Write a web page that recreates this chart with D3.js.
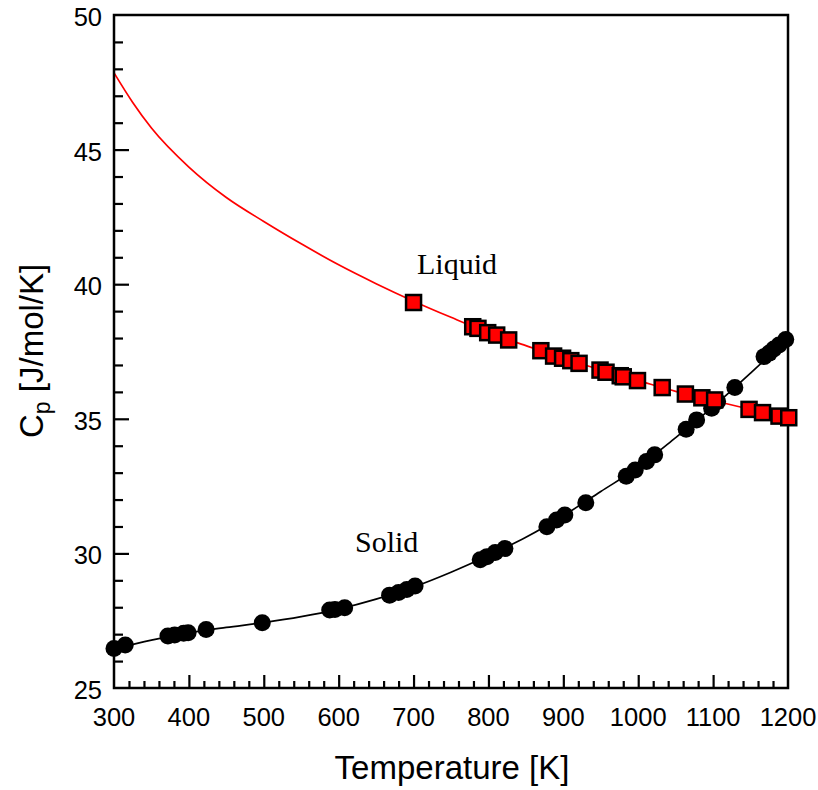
<!DOCTYPE html>
<html>
<head>
<meta charset="utf-8">
<script src="https://cdn.jsdelivr.net/npm/d3@7"></script>
<style>
  html, body { margin: 0; padding: 0; background: #fff; }
  svg { display: block; }
</style>
</head>
<body>
<svg id="chart" width="818" height="790"></svg>
<script>
// Fitted heat-capacity curves (temperature K, Cp J/mol/K)
const liquidCurveT  = [300, 325, 350, 400, 450, 500, 550, 600, 650, 700, 750, 800, 850, 900, 950, 1000, 1050, 1100, 1150, 1200];
const liquidCurveCp = [47.85, 46.75, 45.8, 44.35, 43.22, 42.33, 41.50, 40.72, 40.02, 39.37, 38.77, 38.2, 37.72, 37.25, 36.82, 36.42, 36.02, 35.68, 35.35, 35.05];
const solidCurveT   = [300, 350, 400, 450, 500, 550, 600, 650, 700, 750, 800, 850, 900, 950, 1000, 1050, 1100, 1150, 1200];
const solidCurveCp  = [26.45, 26.78, 27.05, 27.25, 27.43, 27.65, 27.93, 28.3, 28.75, 29.3, 29.92, 30.6, 31.4, 32.3, 33.2, 34.3, 35.45, 36.7, 38.0];

// Measured points, liquid phase
const liquidT  = [700, 779, 786, 799, 811, 827, 870, 887, 899, 910, 921, 949, 957, 976, 980, 999, 1032, 1063, 1085, 1102, 1148, 1166, 1188, 1201];
const liquidCp = [39.32, 38.42, 38.36, 38.20, 38.11, 37.93, 37.53, 37.33, 37.25, 37.16, 37.06, 36.81, 36.73, 36.60, 36.56, 36.42, 36.16, 35.92, 35.78, 35.70, 35.35, 35.23, 35.10, 35.04];

// Measured points, solid phase
const solidT  = [300, 315, 372, 381, 393, 399, 423, 498, 588, 595, 608, 668, 680, 691, 702, 789, 798, 809, 822, 878, 891, 902, 930, 984, 996, 1011, 1022, 1064, 1078, 1098, 1106, 1129, 1168, 1175, 1181, 1188, 1197];
const solidCp = [26.47, 26.60, 26.93, 26.97, 27.03, 27.05, 27.17, 27.42, 27.90, 27.92, 27.98, 28.45, 28.55, 28.66, 28.79, 29.76, 29.88, 30.03, 30.18, 30.99, 31.24, 31.43, 31.88, 32.87, 33.10, 33.41, 33.66, 34.61, 34.96, 35.39, 35.64, 36.16, 37.31, 37.44, 37.59, 37.74, 37.95];

const xTicks = [300, 400, 500, 600, 700, 800, 900, 1000, 1100, 1200];
const yTicks = [25, 30, 35, 40, 45, 50];
const phaseLabels = ["Liquid", "Solid"];

const svg = d3.select("#chart");
const plotLeft = 114, plotRight = 788, plotTop = 15, plotBottom = 688;

const x = d3.scaleLinear().domain([300, 1200]).range([plotLeft, plotRight]);
const y = d3.scaleLinear().domain([25, 50]).range([plotBottom, plotTop]);

const sans = "'Liberation Sans', Arial, sans-serif";
const serif = "'Liberation Serif', 'Times New Roman', serif";

// Inward ticks: major and minor
const xAxis = d3.axisBottom(x).tickValues(d3.range(320, 1200, 20)).tickSize(-7).tickFormat("");
const gx = svg.append("g").attr("transform", `translate(0,${plotBottom})`).call(xAxis);
gx.selectAll(".tick").filter(d => d % 100 === 0).select("line").attr("y2", -13);
gx.select(".domain").remove();
gx.selectAll("line").attr("stroke", "#000").attr("stroke-width", 2.2);

const yAxis = d3.axisLeft(y).tickValues(d3.range(26, 50, 1)).tickSize(-9).tickFormat("");
const gy = svg.append("g").attr("transform", `translate(${plotLeft},0)`).call(yAxis);
gy.selectAll(".tick").filter(d => d % 5 === 0).select("line").attr("x2", 15);
gy.select(".domain").remove();
gy.selectAll("line").attr("stroke", "#000").attr("stroke-width", 2.2);

// Tick labels
svg.append("g").selectAll("text").data(xTicks).join("text")
  .attr("x", d => x(d)).attr("y", plotBottom + 38)
  .attr("text-anchor", "middle")
  .attr("font-family", sans).attr("font-size", 25.5).attr("fill", "#000")
  .text(d => d);

svg.append("g").selectAll("text").data(yTicks).join("text")
  .attr("x", plotLeft - 12).attr("y", d => y(d) + 11)
  .attr("text-anchor", "end")
  .attr("font-family", sans).attr("font-size", 25.5).attr("fill", "#000")
  .text(d => d);

// Curves
const line = d3.line().x(d => x(d[0])).y(d => y(d[1])).curve(d3.curveMonotoneX);
svg.append("path")
  .datum(solidCurveT.map((t, i) => [t, solidCurveCp[i]]))
  .attr("d", line).attr("fill", "none").attr("stroke", "#000").attr("stroke-width", 1.7);
svg.append("path")
  .datum(liquidCurveT.map((t, i) => [t, liquidCurveCp[i]]))
  .attr("d", line).attr("fill", "none").attr("stroke", "#ff0000").attr("stroke-width", 1.7);

// Frame
svg.append("rect")
  .attr("x", plotLeft).attr("y", plotTop).attr("width", plotRight - plotLeft).attr("height", plotBottom - plotTop)
  .attr("fill", "none").attr("stroke", "#000").attr("stroke-width", 2.5);

// Solid points
svg.append("g").selectAll("circle").data(solidT.map((t, i) => [t, solidCp[i]])).join("circle")
  .attr("cx", d => x(d[0])).attr("cy", d => y(d[1])).attr("r", 8.5).attr("fill", "#000");

// Liquid points
const s = 15;
svg.append("g").selectAll("rect").data(liquidT.map((t, i) => [t, liquidCp[i]])).join("rect")
  .attr("x", d => x(d[0]) - s / 2).attr("y", d => y(d[1]) - s / 2)
  .attr("width", s).attr("height", s)
  .attr("fill", "#ff0000").attr("stroke", "#000").attr("stroke-width", 2.5);

// Phase labels
svg.append("text").attr("x", 417).attr("y", 274)
  .attr("font-family", serif).attr("font-size", 30).attr("fill", "#000").text(phaseLabels[0]);
svg.append("text").attr("x", 355).attr("y", 552)
  .attr("font-family", serif).attr("font-size", 30).attr("fill", "#000").text(phaseLabels[1]);

// Axis titles
svg.append("text").attr("x", (plotLeft + plotRight) / 2 + 1).attr("y", 779)
  .attr("text-anchor", "middle")
  .attr("font-family", sans).attr("font-size", 33).attr("fill", "#000")
  .text("Temperature [K]");

const yt = svg.append("text")
  .attr("transform", "translate(43,438) rotate(-90)")
  .attr("font-family", sans).attr("font-size", 33).attr("fill", "#000");
yt.append("tspan").text("C");
yt.append("tspan").attr("font-size", 23).attr("dy", 7).text("p");
yt.append("tspan").attr("dy", -7).text(" [J/mol/K]");
</script>
</body>
</html>
